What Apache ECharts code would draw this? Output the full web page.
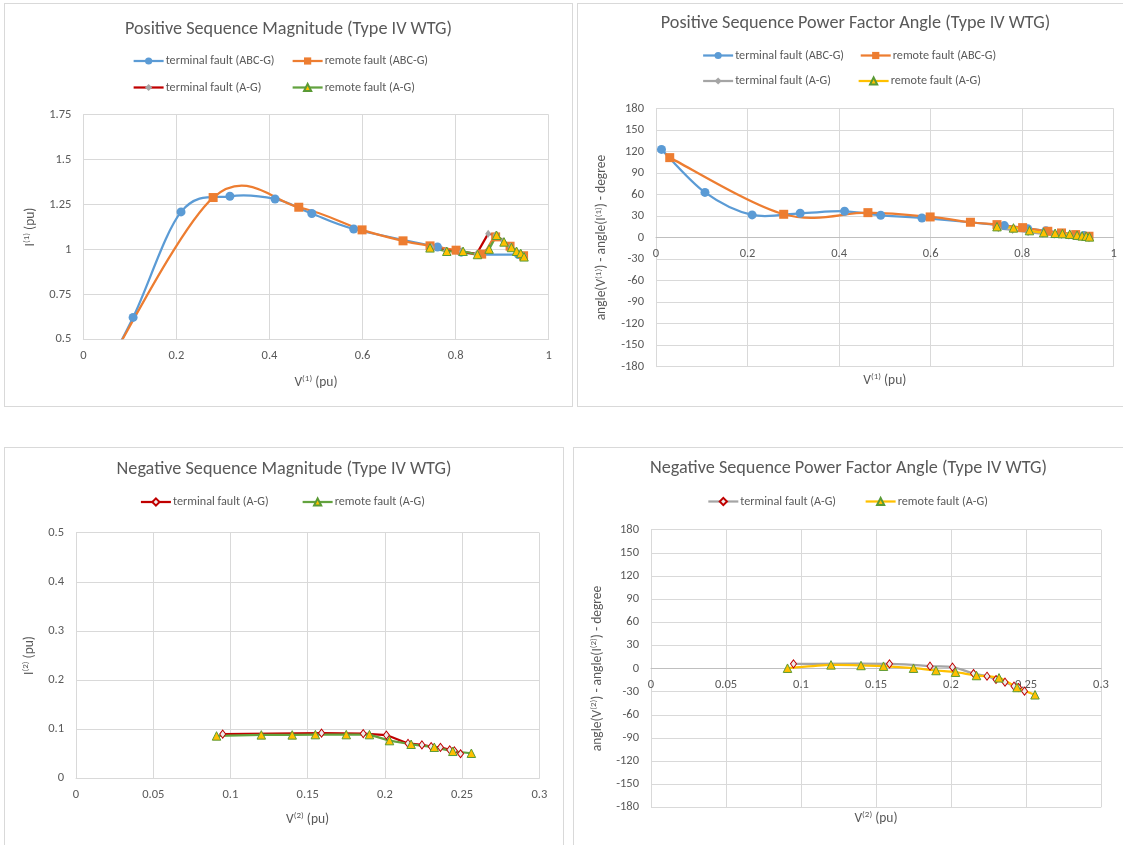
<!DOCTYPE html>
<html>
<head>
<meta charset="utf-8">
<script src="https://cdn.jsdelivr.net/npm/echarts@6/dist/echarts.min.js"></script>
<style>
  html, body { margin: 0; padding: 0; background: #fff; width: 1123px; height: 845px; overflow: hidden; position: relative; }
  .panel { position: absolute; border: 1px solid #d9d9d9; background: #fff; }
</style>
</head>
<body>
<div id="p1" class="panel" style="left:4px;top:3px;width:567px;height:402px"></div>
<div id="p2" class="panel" style="left:577px;top:3px;width:555px;height:402px"></div>
<div id="p3" class="panel" style="left:4px;top:447px;width:558px;height:400px"></div>
<div id="p4" class="panel" style="left:573px;top:447px;width:549px;height:400px"></div>
<script>
// ---- Positive sequence, three-phase faults (ABC-G) ----
const termABC_V1 = [0.012, 0.107, 0.210, 0.315, 0.412, 0.491, 0.581, 0.761, 0.812, 0.852, 0.935];
const termABC_I1 = [0.15, 0.622, 1.209, 1.296, 1.281, 1.200, 1.114, 1.014, 0.985, 0.973, 0.972];
const termABC_A1 = [123, 63, 31.6, 33.9, 36.7, 31.1, 27.4, 16.7, 12.5, 9.5, 3];

const remABC_V1 = [0.030, 0.279, 0.463, 0.599, 0.687, 0.745, 0.801, 0.856, 0.886, 0.917, 0.946];
const remABC_I1 = [0.25, 1.289, 1.235, 1.109, 1.048, 1.020, 0.996, 0.974, 1.070, 1.018, 0.965];
const remABC_A1 = [111.5, 32.5, 34.8, 28.8, 21.4, 18.1, 13.9, 8.8, 6.5, 4.2, 1.9];

// ---- Positive sequence, single-line-to-ground faults (A-G) ----
const termAG_V1 = [0.748, 0.779, 0.813, 0.845, 0.870, 0.886, 0.902, 0.918, 0.930, 0.939, 0.946];
const termAG_I1 = [1.012, 0.993, 0.988, 0.975, 1.088, 1.080, 1.045, 1.015, 0.992, 0.980, 0.965];
const termAG_A1 = [13, 10.5, 7.5, 5.5, 4, 3.5, 2.5, 1.5, 0.5, 0, -1];

const remAG_V1 = [0.745, 0.781, 0.816, 0.847, 0.872, 0.888, 0.904, 0.920, 0.931, 0.940, 0.947];
const remAG_I1 = [1.009, 0.990, 0.990, 0.972, 1.002, 1.079, 1.042, 1.011, 0.990, 0.978, 0.959];
const remAG_A1 = [15.3, 13.5, 9.8, 7, 6, 5.6, 4.8, 3.4, 2.4, 2, 1];

// ---- Negative sequence (A-G faults only) ----
const termAG_V2 = [0.095, 0.159, 0.186, 0.201, 0.215, 0.224, 0.230, 0.236, 0.242, 0.245, 0.249];
const termAG_I2 = [0.090, 0.092, 0.091, 0.088, 0.071, 0.068, 0.0645, 0.063, 0.058, 0.056, 0.050];
const termAG_A2 = [6, 6, 3, 1.7, -6.5, -10, -14.3, -17.7, -22.9, -24.6, -29.4];

const remAG_V2 = [0.091, 0.120, 0.140, 0.155, 0.175, 0.190, 0.203, 0.217, 0.232, 0.244, 0.256];
const remAG_I2 = [0.0863, 0.0884, 0.0884, 0.089, 0.089, 0.089, 0.0768, 0.0693, 0.0633, 0.055, 0.051];
const remAG_A2 = [0.4, 4.7, 3.9, 3, 0.4, -2.6, -4.8, -9.1, -12.1, -24.6, -34.1];

// ---- Names and axis ticks ----
const NAME_TERM_ABC = 'terminal fault (ABC-G)';
const NAME_REM_ABC = 'remote fault (ABC-G)';
const NAME_TERM_AG = 'terminal fault (A-G)';
const NAME_REM_AG = 'remote fault (A-G)';
const magTicks1 = { min: 0.5, max: 1.75, interval: 0.25 };
const magTicks2 = { min: 0, max: 0.5, interval: 0.1 };
const angleTicks = { min: -180, max: 180, interval: 30 };
const vTicks1 = { min: 0, max: 1, interval: 0.2 };
const vTicks2 = { min: 0, max: 0.3, interval: 0.05 };

const FONT = "Carlito, 'Liberation Sans Narrow', 'Liberation Sans', sans-serif";
const TXT = '#595959';
const GRID = '#d9d9d9';
const C = { blue: '#5B9BD5', orange: '#ED7D31', grey: '#A5A5A5', yellow: '#FFC000', red: '#C00000', green: '#63A33F', triEdge: '#5A9A35' };

const pairs = (xs, ys) => xs.map((x, i) => [x, ys[i]]);

function title(text, top) {
  return { text, left: 'center', top, padding: 0,
    textStyle: { fontFamily: FONT, fontSize: 18.2, fontWeight: 'normal', color: TXT } };
}
function legend(name, left, top, lineColor) {
  return { data: [name], left, top, padding: 0, itemWidth: 30, itemHeight: 9, itemGap: 0,
    selectedMode: false,
    lineStyle: { color: lineColor, width: 2.25, opacity: 1 },
    textStyle: { fontFamily: FONT, fontSize: 12.2, color: TXT, padding: [0, 0, 0, -3] } };
}
const supRich = { s: { fontSize: 9, verticalAlign: 'top', lineHeight: 16, fontFamily: FONT, color: TXT } };
// crossAt: pixel shift that brings the horizontal axis up to the zero line
function xAxis(t, name, gap, crossAt, zeroColor) {
  return Object.assign({ type: 'value', name, nameLocation: 'middle', nameGap: gap,
    offset: crossAt ? -crossAt : 0,
    nameTextStyle: { fontFamily: FONT, fontSize: 13.5, color: TXT, lineHeight: 16, rich: supRich },
    axisLine: { show: true, onZero: false, lineStyle: { color: zeroColor || GRID, width: 1 } },
    axisTick: { show: false },
    axisLabel: { fontFamily: FONT, fontSize: 12.5, color: TXT, margin: 10 },
    splitLine: { show: true, lineStyle: { color: GRID, width: 1 } } }, t);
}
function yAxis(t, name, gap) {
  return Object.assign({ type: 'value', name, nameLocation: 'middle', nameGap: gap,
    nameTextStyle: { fontFamily: FONT, fontSize: 13.5, color: TXT, lineHeight: 16, rich: supRich },
    axisLine: { show: true, onZero: false, lineStyle: { color: GRID, width: 1 } },
    axisTick: { show: false },
    axisLabel: { fontFamily: FONT, fontSize: 12.5, color: TXT, margin: 12 },
    splitLine: { show: true, lineStyle: { color: GRID, width: 1 } } }, t);
}
function grid(left, top, width, height) {
  return { left, top, width, height, outerBoundsMode: 'none', containLabel: false };
}

// Straight polyline with markers; with hideLine the markers alone are drawn
// (the curve then comes from smoothCurve below).
function line(name, data, color, symbol, size, fill, edge, hideLine) {
  return { type: 'line', name, data, smooth: false, symbol, symbolSize: size,
    showAllSymbol: true, clip: true,
    lineStyle: { color, width: 2.25, opacity: hideLine ? 0 : 1 },
    itemStyle: { color: fill, borderColor: edge || fill, borderWidth: edge ? 1 : 0 },
    emphasis: { disabled: true }, animation: false };
}

// Smoothed curve through the points (cardinal spline, control points at 1/6
// of the neighbour chord), placed on the grid through the axis scales.
function smoothCurve(xs, ys, color) {
  const pts = pairs(xs, ys);
  return {
    type: 'custom', silent: true, animation: false, data: pts, encode: { x: 0, y: 1 },
    renderItem(params, api) {
      if (params.dataIndex !== 0) return null;
      const p = pts.map(d => api.coord(d));
      let d = 'M' + p[0][0] + ',' + p[0][1];
      for (let i = 0; i < p.length - 1; i++) {
        const p0 = p[i - 1] || p[i], p1 = p[i], p2 = p[i + 1], p3 = p[i + 2] || p[i + 1];
        const c1x = p1[0] + (p2[0] - p0[0]) / 6, c1y = p1[1] + (p2[1] - p0[1]) / 6;
        const c2x = p2[0] - (p3[0] - p1[0]) / 6, c2y = p2[1] - (p3[1] - p1[1]) / 6;
        d += ' C' + c1x + ',' + c1y + ' ' + c2x + ',' + c2y + ' ' + p2[0] + ',' + p2[1];
      }
      const cs = params.coordSys;
      return {
        type: 'path', shape: { pathData: d },
        style: { fill: 'none', stroke: color, lineWidth: 2.25, lineJoin: 'round' },
        clipPath: { type: 'rect', shape: { x: cs.x, y: cs.y, width: cs.width, height: cs.height } }
      };
    }
  };
}

// Positive sequence magnitude
echarts.init(document.getElementById('p1')).setOption({
  animation: false,
  title: title('Positive Sequence Magnitude (Type IV WTG)', 16),
  legend: [legend(NAME_TERM_ABC, 127.5, 51, C.blue), legend(NAME_REM_ABC, 286.5, 51, C.orange),
           legend(NAME_TERM_AG, 127.5, 77.5, C.red), legend(NAME_REM_AG, 286.5, 77.5, C.green)],
  grid: grid(78.3, 110.7, 465.4, 224.6),
  xAxis: xAxis(vTicks1, 'V{s|(1)} (pu)', 35),
  yAxis: yAxis(magTicks1, 'I{s|(1)} (pu)', 43),
  series: [
    smoothCurve(termABC_V1, termABC_I1, C.blue),
    line(NAME_TERM_ABC, pairs(termABC_V1, termABC_I1), C.blue, 'circle', 9, C.blue, null, true),
    smoothCurve(remABC_V1, remABC_I1, C.orange),
    line(NAME_REM_ABC, pairs(remABC_V1, remABC_I1), C.orange, 'rect', 9, C.orange, null, true),
    line(NAME_TERM_AG, pairs(termAG_V1, termAG_I1), C.red, 'diamond', [6, 8], C.grey, null, false),
    line(NAME_REM_AG, pairs(remAG_V1, remAG_I1), C.green, 'triangle', 8.5, C.yellow, C.triEdge, false)
  ]
});

// Positive sequence power factor angle
echarts.init(document.getElementById('p2')).setOption({
  animation: false,
  title: title('Positive Sequence Power Factor Angle (Type IV WTG)', 10.5),
  legend: [legend(NAME_TERM_ABC, 124, 45.5, C.blue), legend(NAME_REM_ABC, 281.6, 45.5, C.orange),
           legend(NAME_TERM_AG, 124, 71, C.grey), legend(NAME_REM_AG, 279.5, 71, C.yellow)],
  grid: grid(78, 104.5, 457.7, 258.2),
  xAxis: xAxis(vTicks1, 'V{s|(1)} (pu)', 135, 129.1, '#bfbfbf'),
  yAxis: yAxis(angleTicks, 'angle(V{s|(1)}) - angle(I{s|(1)}) - degree', 46),
  series: [
    smoothCurve(termABC_V1, termABC_A1, C.blue),
    line(NAME_TERM_ABC, pairs(termABC_V1, termABC_A1), C.blue, 'circle', 9, C.blue, null, true),
    smoothCurve(remABC_V1, remABC_A1, C.orange),
    line(NAME_REM_ABC, pairs(remABC_V1, remABC_A1), C.orange, 'rect', 9, C.orange, null, true),
    smoothCurve(termAG_V1, termAG_A1, C.grey),
    line(NAME_TERM_AG, pairs(termAG_V1, termAG_A1), C.grey, 'diamond', [6, 8], C.grey, null, true),
    smoothCurve(remAG_V1, remAG_A1, C.yellow),
    line(NAME_REM_AG, pairs(remAG_V1, remAG_A1), C.yellow, 'triangle', 8.5, C.yellow, C.triEdge, true)
  ]
});

// Negative sequence magnitude
echarts.init(document.getElementById('p3')).setOption({
  animation: false,
  title: title('Negative Sequence Magnitude (Type IV WTG)', 12.5),
  legend: [legend(NAME_TERM_AG, 134.8, 48, C.red), legend(NAME_REM_AG, 296.5, 48, C.green)],
  grid: grid(71, 84.7, 463.3, 245.6),
  xAxis: xAxis(vTicks2, 'V{s|(2)} (pu)', 33),
  yAxis: yAxis(magTicks2, 'I{s|(2)} (pu)', 36),
  series: [
    line(NAME_TERM_AG, pairs(termAG_V2, termAG_I2), C.red, 'diamond', [6, 8], '#ececec', C.red, false),
    line(NAME_REM_AG, pairs(remAG_V2, remAG_I2), C.green, 'triangle', 8.5, C.yellow, C.triEdge, false)
  ]
});

// Negative sequence power factor angle
echarts.init(document.getElementById('p4')).setOption({
  animation: false,
  title: title('Negative Sequence Power Factor Angle (Type IV WTG)', 11.5),
  legend: [legend(NAME_TERM_AG, 133.2, 47.5, C.grey), legend(NAME_REM_AG, 290.5, 47.5, C.yellow)],
  grid: grid(77, 81.7, 450, 277.6),
  xAxis: xAxis(vTicks2, 'V{s|(2)} (pu)', 142, 138.8, '#bfbfbf'),
  yAxis: yAxis(angleTicks, 'angle(V{s|(2)}) - angle(I{s|(2)}) - degree', 43),
  series: [
    smoothCurve(termAG_V2, termAG_A2, C.grey),
    line(NAME_TERM_AG, pairs(termAG_V2, termAG_A2), C.grey, 'diamond', [6, 8], '#ececec', C.red, true),
    smoothCurve(remAG_V2, remAG_A2, C.yellow),
    line(NAME_REM_AG, pairs(remAG_V2, remAG_A2), C.yellow, 'triangle', 8.5, C.yellow, C.triEdge, true)
  ]
});
</script>
</body>
</html>
